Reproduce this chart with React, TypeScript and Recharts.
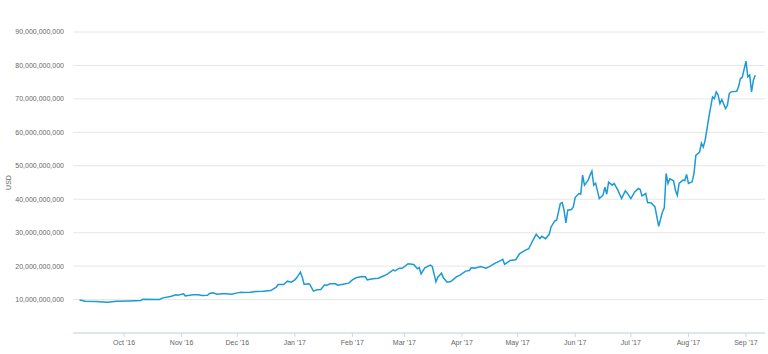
import React from 'react';
import { LineChart, Line, XAxis, YAxis, CartesianGrid, Label } from 'recharts';

const dates = [
  '2016-09-07', '2016-09-08', '2016-09-10', '2016-09-16', '2016-09-22', '2016-09-27',
  '2016-10-04', '2016-10-10', '2016-10-11', '2016-10-20', '2016-10-22', '2016-10-26', '2016-10-29', '2016-10-30',
  '2016-11-02', '2016-11-03', '2016-11-07', '2016-11-10', '2016-11-12', '2016-11-15', '2016-11-16', '2016-11-18',
  '2016-11-20', '2016-11-23', '2016-11-25', '2016-11-28',
  '2016-12-01', '2016-12-03', '2016-12-04', '2016-12-08', '2016-12-11', '2016-12-15', '2016-12-19', '2016-12-22',
  '2016-12-23', '2016-12-26', '2016-12-28', '2016-12-30',
  '2017-01-01', '2017-01-02', '2017-01-04', '2017-01-05', '2017-01-06', '2017-01-08', '2017-01-09', '2017-01-11',
  '2017-01-13', '2017-01-15', '2017-01-17', '2017-01-18', '2017-01-20', '2017-01-23', '2017-01-24', '2017-01-27',
  '2017-01-30',
  '2017-02-01', '2017-02-03', '2017-02-06', '2017-02-08', '2017-02-09', '2017-02-12', '2017-02-15', '2017-02-18',
  '2017-02-20', '2017-02-23', '2017-02-24', '2017-02-26', '2017-02-28',
  '2017-03-03', '2017-03-06', '2017-03-08', '2017-03-09', '2017-03-10', '2017-03-12', '2017-03-15', '2017-03-16',
  '2017-03-18', '2017-03-19', '2017-03-21', '2017-03-22', '2017-03-24', '2017-03-26', '2017-03-29', '2017-03-31',
  '2017-04-03', '2017-04-05', '2017-04-06', '2017-04-08', '2017-04-11', '2017-04-14', '2017-04-16', '2017-04-19',
  '2017-04-22', '2017-04-23', '2017-04-24', '2017-04-27', '2017-04-30',
  '2017-05-02', '2017-05-05', '2017-05-07', '2017-05-09', '2017-05-11', '2017-05-13', '2017-05-14', '2017-05-16',
  '2017-05-18', '2017-05-19', '2017-05-21', '2017-05-22', '2017-05-24', '2017-05-25', '2017-05-26', '2017-05-27',
  '2017-05-28', '2017-05-30', '2017-05-31',
  '2017-06-01', '2017-06-03', '2017-06-04', '2017-06-05', '2017-06-06', '2017-06-08', '2017-06-09', '2017-06-10',
  '2017-06-11', '2017-06-12', '2017-06-14', '2017-06-16', '2017-06-17', '2017-06-18', '2017-06-19', '2017-06-21',
  '2017-06-22', '2017-06-24', '2017-06-26', '2017-06-28', '2017-06-29',
  '2017-07-01', '2017-07-03', '2017-07-05', '2017-07-06', '2017-07-07', '2017-07-09', '2017-07-10', '2017-07-12',
  '2017-07-14', '2017-07-15', '2017-07-16', '2017-07-18', '2017-07-19', '2017-07-20', '2017-07-21', '2017-07-22',
  '2017-07-24', '2017-07-25', '2017-07-26', '2017-07-27', '2017-07-29', '2017-07-30', '2017-07-31',
  '2017-08-01', '2017-08-03', '2017-08-04', '2017-08-05', '2017-08-07', '2017-08-08', '2017-08-09', '2017-08-10',
  '2017-08-12', '2017-08-13', '2017-08-14', '2017-08-15', '2017-08-16', '2017-08-17', '2017-08-18', '2017-08-19',
  '2017-08-21', '2017-08-22', '2017-08-23', '2017-08-24', '2017-08-27', '2017-08-28', '2017-08-29', '2017-08-30',
  '2017-09-01', '2017-09-02', '2017-09-03', '2017-09-04', '2017-09-05', '2017-09-06',
];

// market cap, billions of USD
const marketCapB = [
  9.8, 9.8, 9.5, 9.4, 9.2, 9.5,
  9.6, 9.7, 10.1, 10.0, 10.5, 10.9, 11.4, 11.3,
  11.7, 11.1, 11.4, 11.4, 11.2, 11.3, 11.8, 12.0,
  11.6, 11.7, 11.7, 11.6,
  12.0, 12.2, 12.1, 12.2, 12.4, 12.5, 12.7, 13.7,
  14.5, 14.5, 15.5, 15.2,
  15.9, 16.5, 18.2, 16.7, 14.5, 14.7, 14.6, 12.5,
  12.9, 13.0, 14.4, 14.2, 14.7, 14.7, 14.3, 14.6,
  14.9,
  15.9, 16.5, 16.9, 16.8, 15.9, 16.2, 16.4, 17.1,
  17.7, 18.9, 18.6, 19.3, 19.4,
  20.7, 20.5, 19.2, 19.6, 17.7, 19.5, 20.3, 19.9,
  15.3, 16.7, 17.9, 16.5, 15.2, 15.4, 16.8, 17.3,
  18.5, 18.7, 19.5, 19.4, 19.9, 19.4, 19.9, 20.9,
  21.7, 22.0, 20.5, 21.7, 21.9,
  23.7, 24.7, 25.2, 27.5, 29.5, 28.2, 28.9, 28.2,
  29.5, 31.7, 33.5, 33.7, 38.7, 39.0, 36.7, 32.9,
  36.7, 36.9, 37.7,
  40.5, 41.7, 41.5, 47.2, 44.2, 45.7, 47.2, 48.4,
  44.2, 44.8, 40.2, 41.2, 43.6, 41.5, 45.1, 44.2,
  44.7, 42.7, 40.2, 42.5, 41.9,
  40.2, 42.1, 43.2, 42.9, 41.0, 41.7, 39.0, 38.9,
  37.7, 34.7, 31.9, 36.2, 37.4, 47.7, 44.7, 46.1,
  45.5, 42.7, 41.2, 44.7, 45.7, 45.5, 47.4,
  44.7, 45.2, 47.7, 53.1, 54.1, 56.8, 55.6, 57.6,
  64.5, 67.6, 70.6, 70.1, 72.1, 71.1, 68.6, 69.8,
  67.1, 68.1, 71.6, 72.1, 72.3, 73.6, 76.1, 76.4,
  81.3, 76.6, 77.1, 72.1, 75.6, 77.1,
];

const monthTicks = [
  '2016-10-01', '2016-11-01', '2016-12-01', '2017-01-01', '2017-02-01', '2017-03-01',
  '2017-04-01', '2017-05-01', '2017-06-01', '2017-07-01', '2017-08-01', '2017-09-01',
];
const monthLabels = [
  "Oct '16", "Nov '16", "Dec '16", "Jan '17", "Feb '17", "Mar '17",
  "Apr '17", "May '17", "Jun '17", "Jul '17", "Aug '17", "Sep '17",
];
const yTicks = [10, 20, 30, 40, 50, 60, 70, 80, 90];

const toTime = (s: string) => new Date(s + 'T00:00:00Z').getTime();

const data = dates.map((d, i) => ({ t: toTime(d), cap: marketCapB[i] }));
const xTicks = monthTicks.map(toTime);
const labelFor = (t: number) => monthLabels[xTicks.indexOf(t)] ?? '';

const xDomain = [Date.UTC(2016, 8, 3, 12), Date.UTC(2017, 8, 11, 6)];

const tickStyle = { fontSize: 7, fill: '#666666', fontFamily: 'Liberation Sans, Arial, sans-serif' };

const App = () => {
  return (
    <div style={{ position: 'absolute', left: 0, top: 0, background: '#fff' }}>
      <LineChart width={768} height={354} data={data} margin={{ top: 32, right: 3, bottom: 1, left: 0 }}>
        <CartesianGrid vertical={false} stroke="#e6e6e6" />
        <XAxis
          dataKey="t"
          type="number"
          scale="time"
          domain={xDomain}
          ticks={xTicks}
          tickFormatter={labelFor}
          height={20}
          stroke="#ccd6eb"
          tickSize={4}
          tickMargin={3}
          tick={tickStyle}
        />
        <YAxis
          type="number"
          domain={[0, 90]}
          ticks={yTicks}
          width={73}
          axisLine={false}
          tickLine={false}
          tickSize={6}
          tickMargin={3}
          tick={tickStyle}
          tickFormatter={(v: number) => (v * 1e9).toLocaleString('en-US')}
        >
          <Label
            value="USD"
            angle={-90}
            position="insideLeft"
            offset={9}
            style={{ fontSize: 7, fill: '#666666', fontFamily: 'Liberation Sans, Arial, sans-serif', textAnchor: 'middle' }}
          />
        </YAxis>
        <Line
          type="linear"
          dataKey="cap"
          stroke="#1b9ad6"
          strokeWidth={1.5}
          dot={false}
          isAnimationActive={false}
        />
      </LineChart>
    </div>
  );
};

export default App;
